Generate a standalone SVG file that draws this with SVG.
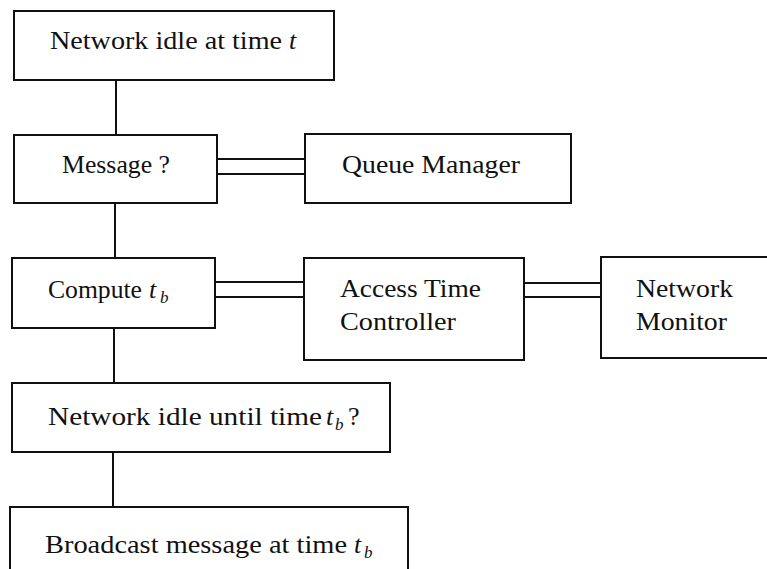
<svg xmlns="http://www.w3.org/2000/svg" width="767" height="569" viewBox="0 0 767 569">
<style>
.box{fill:#fff;stroke:#111;stroke-width:2}
.ln{stroke:#111;stroke-width:2;fill:none}
text{font-family:"Liberation Serif","DejaVu Serif",serif;font-size:26px;fill:#111}
.it{font-style:italic}
.sub{font-style:italic;font-size:17px}
</style>
<rect width="767" height="569" fill="#fff"/>
<g id="connectors">
<line class="ln" x1="116" y1="80" x2="116" y2="135"/>
<line class="ln" x1="115" y1="203" x2="115" y2="258"/>
<line class="ln" x1="114" y1="328" x2="114" y2="383"/>
<line class="ln" x1="113" y1="452" x2="113" y2="507"/>
<line class="ln" x1="217" y1="159" x2="305" y2="159"/>
<line class="ln" x1="217" y1="174" x2="305" y2="174"/>
<line class="ln" x1="215" y1="282" x2="304" y2="282"/>
<line class="ln" x1="215" y1="297" x2="304" y2="297"/>
<line class="ln" x1="524" y1="283" x2="601" y2="283"/>
<line class="ln" x1="524" y1="297" x2="601" y2="297"/>
</g>
<g id="n1">
<rect class="box" x="14" y="11" width="320" height="69"/>
<text x="50" y="49" textLength="232" lengthAdjust="spacingAndGlyphs">Network idle at time</text>
<text class="it" x="289" y="49">t</text>
</g>
<g id="n2">
<rect class="box" x="14" y="135" width="203" height="68"/>
<text x="62" y="173" textLength="108" lengthAdjust="spacingAndGlyphs">Message ?</text>
</g>
<g id="n3">
<rect class="box" x="305" y="134" width="266" height="69"/>
<text x="342" y="173" textLength="178" lengthAdjust="spacingAndGlyphs">Queue Manager</text>
</g>
<g id="n4">
<rect class="box" x="12" y="258" width="203" height="70"/>
<text x="48" y="298" textLength="94" lengthAdjust="spacingAndGlyphs">Compute</text>
<text class="it" x="149" y="298">t</text>
<text class="sub" x="160" y="303">b</text>
</g>
<g id="n5">
<rect class="box" x="304" y="258" width="220" height="102"/>
<text x="340" y="297" textLength="141" lengthAdjust="spacingAndGlyphs">Access Time</text>
<text x="340" y="330" textLength="116" lengthAdjust="spacingAndGlyphs">Controller</text>
</g>
<g id="n6">
<rect class="box" x="601" y="257" width="190" height="101"/>
<text x="636" y="297" textLength="97" lengthAdjust="spacingAndGlyphs">Network</text>
<text x="636" y="330" textLength="91" lengthAdjust="spacingAndGlyphs">Monitor</text>
</g>
<g id="n7">
<rect class="box" x="12" y="383" width="378" height="69"/>
<text x="48" y="425" textLength="274" lengthAdjust="spacingAndGlyphs">Network idle until time</text>
<text class="it" x="326" y="425">t</text>
<text class="sub" x="335" y="430">b</text>
<text x="348" y="425">?</text>
</g>
<g id="n8">
<rect class="box" x="10" y="507" width="398" height="80"/>
<text x="45" y="553" textLength="302" lengthAdjust="spacingAndGlyphs">Broadcast message at time</text>
<text class="it" x="354" y="553">t</text>
<text class="sub" x="364" y="558">b</text>
</g>
</svg>
